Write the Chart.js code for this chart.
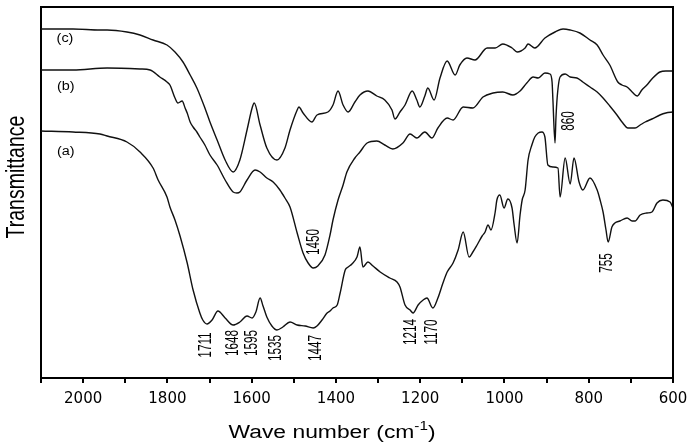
<!DOCTYPE html>
<html>
<head>
<meta charset="utf-8">
<script src="https://cdn.jsdelivr.net/npm/chart.js@4.4.1/dist/chart.umd.min.js"></script>
<style>
  html, body { margin: 0; padding: 0; background: #fff; }
</style>
</head>
<body>
<canvas id="ftir" width="690" height="444"></canvas>
<script>
// FTIR spectra, wavenumber (cm-1) against transmittance (arbitrary units, curves offset)
var waveC = [2100, 2024, 1960, 1943, 1896, 1865, 1834, 1801, 1782, 1763, 1746, 1730, 1711, 1699, 1682,
    1663, 1644, 1628, 1611, 1599, 1594, 1580, 1564, 1540, 1521, 1509, 1492, 1488, 1478, 1457, 1445, 1419,
    1407, 1395, 1383, 1371, 1355, 1343, 1324, 1303, 1284, 1267, 1260, 1248, 1236, 1219, 1208, 1201, 1189,
    1182, 1167, 1153, 1136, 1117, 1106, 1089, 1070, 1041, 1022, 1004, 982, 970, 951, 944, 928, 904, 880,
    861, 844, 821, 797, 780, 766, 750, 731, 721, 709, 697, 685, 674, 662, 648, 631, 617, 600];
var transC = [349, 349, 348, 348, 346, 343, 338, 333, 326, 316, 303, 290, 270, 256, 238,
    218, 206, 218, 248, 270, 275, 253, 230, 218, 230, 248, 268, 271, 265, 256, 263, 266,
    273, 287, 273, 266, 276, 283, 287, 282, 278, 268, 259, 266, 273, 287, 278, 271, 282,
    290, 278, 300, 317, 303, 313, 320, 318, 330, 330, 334, 330, 326, 330, 334, 330, 340, 346,
    349, 348, 345, 338, 333, 323, 313, 296, 293, 291, 286, 282, 288, 293, 300, 306, 307, 307];

var waveB = [2100, 2024, 1943, 1865, 1841, 1818, 1801, 1794, 1782, 1775, 1765, 1758, 1753, 1746, 1739,
    1730, 1723, 1711, 1699, 1682, 1663, 1644, 1635, 1628, 1611, 1592, 1580, 1564, 1549, 1533, 1521, 1509,
    1492, 1478, 1466, 1454, 1443, 1426, 1414, 1407, 1395, 1383, 1374, 1355, 1343, 1326, 1303, 1284, 1265,
    1241, 1224, 1208, 1189, 1172, 1158, 1136, 1122, 1098, 1075, 1051, 1027, 1004, 980, 963, 947, 932, 920,
    904, 892, 887, 885, 880, 878, 875, 868, 856, 844, 828, 814, 797, 780, 766, 750, 733, 721, 707, 690,
    678, 666, 650, 631, 617, 600];
var transB = [308, 308, 310, 309, 308, 301, 296, 293, 280, 275, 277, 270, 265, 256, 251,
    246, 241, 233, 223, 213, 198, 186, 185, 186, 198, 208, 206, 200, 196, 188, 180, 171,
    145, 125, 115, 110, 112, 123, 143, 158, 178, 193, 206, 220, 226, 235, 237, 233, 229,
    235, 244, 240, 246, 240, 250, 260, 258, 271, 270, 281, 285, 286, 283, 287, 295, 301, 300,
    305, 304, 296, 278, 235, 258, 280, 301, 304, 301, 300, 296, 291, 286, 280, 272, 263, 256, 250, 250,
    253, 256, 259, 263, 265, 266];

var waveA = [2100, 2024, 1960, 1943, 1896, 1865, 1834, 1822, 1801, 1794, 1782, 1770, 1753, 1739, 1723,
    1716, 1706, 1694, 1680, 1663, 1644, 1628, 1611, 1599, 1590, 1580, 1573, 1564, 1552, 1540, 1526, 1509,
    1492, 1473, 1454, 1445, 1433, 1421, 1414, 1407, 1397, 1390, 1378, 1371, 1362, 1350, 1343, 1336, 1324,
    1312, 1295, 1272, 1255, 1248, 1236, 1224, 1217, 1205, 1193, 1184, 1170, 1158, 1146, 1136, 1122, 1110,
    1098, 1084, 1075, 1065, 1053, 1046, 1039, 1032, 1022, 1018, 1011, 1001, 992, 982, 977, 970, 963, 958,
    951, 944, 935, 928, 920, 911, 904, 897, 885, 873, 868, 856, 844, 835, 823, 814, 797, 780, 773, 766,
    759, 754, 745, 738, 726, 709, 697, 690, 678, 662, 650, 638, 624, 607, 600];
var transA = [247, 246, 244, 242, 236, 226, 210, 198, 181, 171, 158, 142, 115, 88, 65,
    58, 54, 58, 67, 60, 53, 56, 62, 60, 66, 80, 72, 61, 52, 48, 51, 56,
    53, 52, 50, 52, 58, 65, 67, 70, 73, 85, 108, 111, 114, 121, 131, 111, 116,
    112, 106, 100, 96, 91, 73, 68, 65, 73, 78, 80, 70, 80, 95, 106, 115, 128,
    146, 121, 126, 133, 142, 146, 153, 148, 166, 178, 183, 170, 179, 170, 153, 135, 163, 178,
    188, 218, 233, 241, 245, 246, 241, 213, 211, 210, 181, 220, 194, 220, 196, 188, 200, 188, 178, 166,
    148, 136, 151, 155, 157, 160, 157, 157, 163, 165, 166, 175, 178, 176, 170];

// curve names
var curveNames = ['(a)', '(b)', '(c)'];
var curveNameWave = [2041, 2041, 2043];
var curveNameLevel = [226, 291, 339];

// band labels
var bandLabels = ['1711', '1648', '1595', '1535', '1447', '1450', '1214', '1170', '755', '860'];
var bandWave = [1708, 1644, 1599, 1542, 1447, 1452, 1222, 1172, 757, 847];
var bandLevel = [33, 35, 35, 30, 30, 136, 46, 46, 115, 257];

var xTickStep = 100;
var xLabelStep = 200;

function toPoints(xs, ys) {
    return xs.map(function (x, i) { return { x: x, y: ys[i] }; });
}

var TEXT_FONT = '"Liberation Sans", Arial, sans-serif';

var ftirText = {
    id: 'ftirText',
    afterDraw: function (chart) {
        var ctx = chart.ctx, xs = chart.scales.x, ys = chart.scales.y, a = chart.chartArea;
        var i;
        ctx.save();
        // top and right frame
        ctx.strokeStyle = '#000';
        ctx.lineWidth = 2;
        ctx.beginPath();
        ctx.moveTo(a.left, a.top);
        ctx.lineTo(a.right, a.top);
        ctx.lineTo(a.right, a.bottom);
        ctx.stroke();

        ctx.fillStyle = '#000';
        ctx.textAlign = 'center';
        ctx.textBaseline = 'middle';

        // (a) (b) (c)
        for (i = 0; i < curveNames.length; i++) {
            ctx.save();
            ctx.translate(xs.getPixelForValue(curveNameWave[i]), ys.getPixelForValue(curveNameLevel[i]));
            ctx.scale(1.2, 1);
            ctx.font = '12px ' + TEXT_FONT;
            ctx.fillText(curveNames[i], 0, 0);
            ctx.restore();
        }

        // band positions, vertical text
        for (i = 0; i < bandLabels.length; i++) {
            ctx.save();
            ctx.translate(xs.getPixelForValue(bandWave[i]), ys.getPixelForValue(bandLevel[i]));
            ctx.rotate(-Math.PI / 2);
            ctx.scale(0.62, 1);
            ctx.font = '19px ' + TEXT_FONT;
            ctx.fillText(bandLabels[i], 0, 0);
            ctx.restore();
        }

        // y title
        ctx.save();
        ctx.translate(17, 177);
        ctx.rotate(-Math.PI / 2);
        ctx.scale(0.78, 1);
        ctx.font = '25px ' + TEXT_FONT;
        ctx.fillText('Transmittance', 0, 0);
        ctx.restore();

        // x title with superscript
        ctx.save();
        ctx.translate(332, 0);
        ctx.scale(1.27, 1);
        ctx.textAlign = 'left';
        ctx.textBaseline = 'alphabetic';
        var main = 'Wave number (cm', sup = '-1', close = ')';
        ctx.font = '18px ' + TEXT_FONT;
        var w1 = ctx.measureText(main).width, w3 = ctx.measureText(close).width;
        ctx.font = '12px ' + TEXT_FONT;
        var w2 = ctx.measureText(sup).width;
        var x0 = -(w1 + w2 + w3) / 2;
        ctx.font = '18px ' + TEXT_FONT;
        ctx.fillText(main, x0, 438);
        ctx.font = '12px ' + TEXT_FONT;
        ctx.fillText(sup, x0 + w1, 430);
        ctx.font = '18px ' + TEXT_FONT;
        ctx.fillText(close, x0 + w1 + w2, 438);
        ctx.restore();

        ctx.restore();
    }
};

function lineSet(label, xs, ys) {
    return {
        label: label,
        data: toPoints(xs, ys),
        borderColor: '#111',
        borderWidth: 1.4,
        pointRadius: 0,
        fill: false,
        cubicInterpolationMode: 'monotone'
    };
}

new Chart(document.getElementById('ftir'), {
    type: 'line',
    data: {
        datasets: [
            lineSet('(a)', waveA, transA),
            lineSet('(b)', waveB, transB),
            lineSet('(c)', waveC, transC)
        ]
    },
    options: {
        responsive: false,
        devicePixelRatio: 1,
        animation: false,
        layout: { padding: { top: 7, right: 17, left: 0, bottom: 0 } },
        plugins: { legend: { display: false }, tooltip: { enabled: false } },
        scales: {
            x: {
                type: 'linear',
                position: 'bottom',
                min: 600, max: 2100,
                reverse: true,
                afterFit: function (s) {
                    s.height = 66;
                    s.paddingLeft = 0;
                    s.paddingRight = 0;
                },
                ticks: {
                    stepSize: xTickStep,
                    autoSkip: false,
                    maxRotation: 0,
                    color: '#000',
                    padding: 7,
                    font: { family: 'DejaVu Sans', size: 15 },
                    callback: function (v) { return v % xLabelStep === 0 ? String(v) : ''; }
                },
                grid: { drawOnChartArea: false, drawTicks: true, tickLength: 5, color: '#000', lineWidth: 2 },
                border: { display: true, color: '#000', width: 2 }
            },
            y: {
                min: 0, max: 371,
                afterFit: function (s) { s.width = 41; },
                ticks: { display: false },
                grid: { display: false },
                border: { display: true, color: '#000', width: 2 }
            }
        }
    },
    plugins: [ftirText]
});
</script>
</body>
</html>
